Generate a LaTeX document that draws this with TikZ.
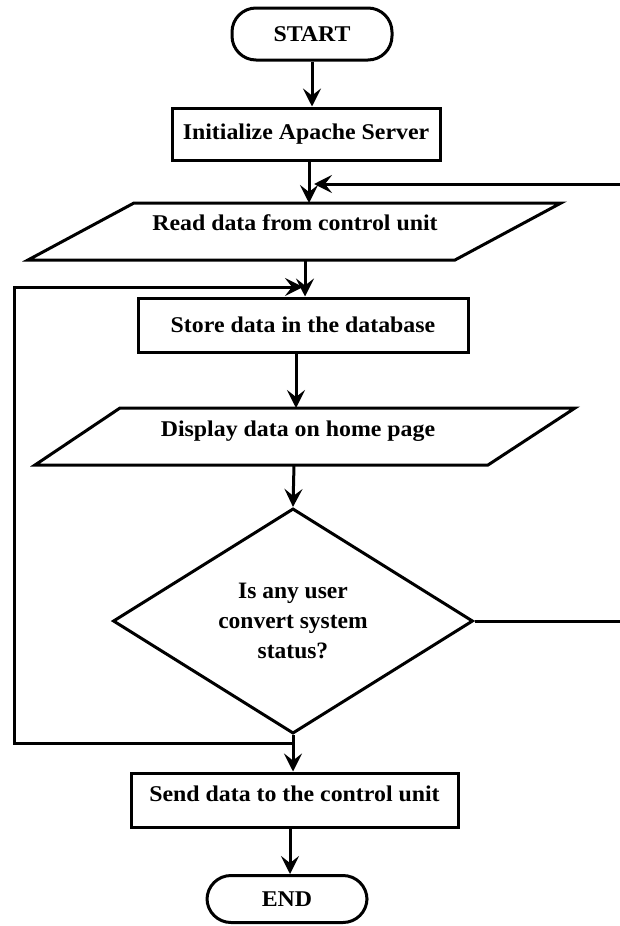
\documentclass[tikz,border=0pt]{standalone}
\usepackage{fontspec}
\setmainfont{Liberation Serif}
\newfontfamily\wideserif[FakeStretch=1.06]{Liberation Serif}
\usetikzlibrary{arrows.meta,shapes.geometric}
\begin{document}
\begin{tikzpicture}[x=1pt,y=-1pt,
  line/.style={line width=3pt},
  arr/.style={line width=3pt,-{Stealth[length=18pt,width=18pt,inset=7pt]}},
  box/.style={draw,line width=3pt,rectangle,inner sep=0pt},
  term/.style={box,rounded corners=24pt},
  lbl/.style={font=\wideserif\fontsize{22.5}{28}\selectfont\bfseries},
  qlbl/.style={font=\fontsize{23.5}{30}\selectfont\bfseries},
]
\useasboundingbox (0,0) rectangle (620,926);
% nodes
\node[term,minimum width=160pt,minimum height=52pt,lbl] (start) at (312,34) {START};
\node[box,minimum width=268pt,minimum height=52pt,lbl] (init) at (306,134) {Initialize Apache Server};
% read parallelogram
\draw[line] (134,203) -- (561,203) -- (455,260) -- (28,260) -- cycle;
\coordinate (readN) at (309,203);
\coordinate (readS) at (305,260);
\node[lbl] (read) at (295,223) {Read data from control unit};
\node[box,minimum width=330pt,minimum height=54pt,lbl] (store) at (303,325) {Store data in the database};
% display parallelogram
\draw[line] (120,408) -- (575,408) -- (488,465) -- (35,465) -- cycle;
\coordinate (dispN) at (296,408);
\coordinate (dispS) at (294,465);
\node[lbl] (disp) at (298,431) {Display data on home page};
% decision
\node[draw,diamond,line width=3pt,minimum width=360pt,minimum height=205pt,inner sep=0pt,
      align=center,qlbl] (dec) at (293,621) {Is any user\\convert system\\status?};
\node[box,minimum width=327pt,minimum height=54pt] (send) at (294.5,800) {};
\node[lbl] (sendt) at (294.5,794) {Send data to the control unit};
\node[term,minimum width=160pt,minimum height=47pt,lbl] (end) at (287,899) {END};
% connector helper coordinates
\coordinate (fbR) at (620,184);
\coordinate (fbL) at (314,184);
\coordinate (decR) at (620,621);
\coordinate (loopA) at (293,743);
\coordinate (loopB) at (14,743);
\coordinate (loopC) at (14,287);
\coordinate (loopD) at (303,287);
\coordinate (sendS) at (290,827);
% connectors
\draw[arr] (start.south) -- (start.south |- init.north);
\draw[arr] (init.south -| readN) -- (readN);
\draw[arr] (fbR) -- (fbL);
\draw[arr] (readS) -- (readS |- store.north);
\draw[arr] (store.south -| dispN) -- (dispN);
\draw[arr] (dispS) -- (dec.north);
\draw[line] (dec.east) -- (decR);
\draw[arr] (dec.south) -- (dec.south |- send.north);
\draw[arr] (loopA) -- (loopB) -- (loopC) -- (loopD);
\draw[arr] (sendS) -- (sendS |- end.north);
\end{tikzpicture}
\end{document}
